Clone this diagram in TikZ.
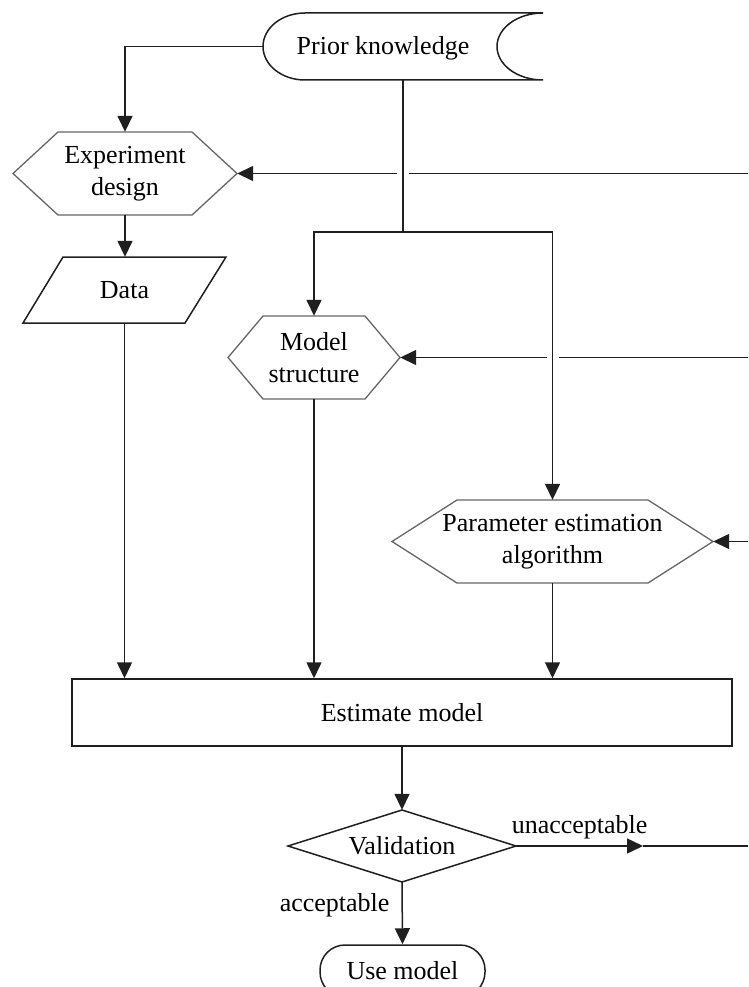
\documentclass[tikz,border=0pt]{standalone}
\usepackage{fontspec}
\setmainfont{Liberation Serif}
\usetikzlibrary{arrows.meta,calc}
\begin{document}
\begin{tikzpicture}[x=1pt,y=-1pt,
  every node/.style={font=\fontsize{26}{32}\selectfont},
  box/.style={draw=none, inner sep=0, align=center},
  line/.style={draw=black!88, line width=1.5pt},
  arr/.style={line, -{Triangle[length=16pt,width=15pt]}},
  outline/.style={draw=black!60, line width=1.3pt},
]
\clip (0,0) rectangle (748,987);
\fill[white] (0,0) rectangle (748,987);

% Prior knowledge (stored data)
\node[box, minimum width=280, minimum height=67] (pk) at (403,46.5) {};
\node[box] (pkt) at (383,48) {Prior knowledge};
\draw[line] (305,13) -- (543,13)
  .. controls (517.6,13) and (497,28) .. (497,46.5)
  .. controls (497,65) and (517.6,80) .. (543,80)
  -- (305,80)
  .. controls (281.8,80) and (263,65) .. (263,46.5)
  .. controls (263,28) and (281.8,13) .. (305,13) -- cycle;

% Experiment design
\node[box, minimum width=224, minimum height=83] (exp) at (125,173.5) {Experiment\\design};
\draw[outline] (13,173.5) -- (58,132) -- (192,132) -- (237,173.5) -- (192,215) -- (58,215) -- cycle;

% Data
\node[box, minimum width=203, minimum height=66] (data) at (124.5,290) {Data};
\draw[line] (63,257) -- (226,257) -- (185,323) -- (23,323) -- cycle;

% Model structure
\node[box, minimum width=172, minimum height=83] (ms) at (314,357.5) {Model\\structure};
\draw[outline] (228,357.5) -- (263,316) -- (365,316) -- (400,357.5) -- (365,399) -- (263,399) -- cycle;

% Parameter estimation algorithm
\node[box, minimum width=321, minimum height=83] (pe) at (552.5,541.5) {Parameter estimation\\algorithm};
\draw[outline] (392,541.5) -- (457,500) -- (648,500) -- (713,541.5) -- (648,583) -- (457,583) -- cycle;

% Estimate model
\node[line, draw, minimum width=660, minimum height=67, inner sep=0] (est) at (402,712.5) {Estimate model};

% Validation
\node[box, minimum width=228, minimum height=72] (val) at (402,846) {Validation};
\draw[line] (288,846) -- (402,810) -- (516,846) -- (402,882) -- cycle;

% Use model
\node[line, draw, rounded corners=25, minimum width=165, minimum height=52, inner sep=0] (use) at (402.5,971) {Use model};

% right-edge coordinates
\coordinate (r1) at (748,173.5);
\coordinate (r2) at (748,357.5);
\coordinate (r3) at (748,541.5);
\coordinate (r4) at (748,846);
\coordinate (ua) at (643,846);
\coordinate (j) at ($(pk.south)+(0,152)$);

% connectors
\draw[arr] (pk.west) -| (exp.north);
\draw[arr] (exp.south) -- (exp.south |- data.north);
\draw[arr] (data.south) -- (data.south |- est.north);
\draw[line] (pk.south) -- (j);
\draw[arr] (j) -| (ms.north);
\draw[arr] (j) -| (pe.north);
\draw[arr] (ms.south) -- (ms.south |- est.north);
\draw[arr] (pe.south) -- (pe.south |- est.north);
\draw[arr] (est.south) -- (val.north);
\draw[arr] (val.south) -- node[pos=0.37, anchor=east, xshift=-12pt, inner sep=0]{acceptable} (use.north);

% feedback lines
\draw[line] (r1) -- ($(pk.south |- exp.east)+(6,0)$);
\draw[arr] ($(pk.south |- exp.east)+(-6,0)$) -- (exp.east);
\draw[line] (r2) -- ($(pe.north |- ms.east)+(6,0)$);
\draw[arr] ($(pe.north |- ms.east)+(-6,0)$) -- (ms.east);
\draw[arr] (r3) -- (pe.east);
\draw[arr] (val.east) -- node[midway, above, yshift=6pt, inner sep=0]{unacceptable} (ua);
\draw[line] (ua) -- (r4);
\end{tikzpicture}
\end{document}
